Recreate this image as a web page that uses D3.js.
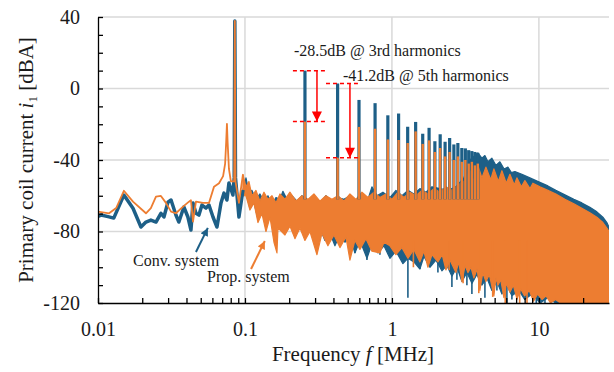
<!DOCTYPE html>
<html>
<head>
<meta charset="utf-8">
<script src="https://cdn.jsdelivr.net/npm/d3@7"></script>
<style>
  body { margin: 0; background: #fff; }
  text { font-family: "Liberation Serif", "Times New Roman", serif; fill: #1a1a1a; }
</style>
</head>
<body>
<div id="chart"></div>
<script>
// ---- data (frequency MHz, level dBA) ----
var convLow = [[0.01,-71.5],[0.0105,-70.8],[0.0117,-71.7],[0.0128,-72.5],[0.015,-59.6],[0.0173,-67],
  [0.0196,-77.5],[0.0212,-74.7],[0.0229,-73.6],[0.0248,-74.7],[0.0268,-69.8],[0.0281,-71.9],[0.0299,-63.6],
  [0.0314,-62.4],[0.0339,-70.8],[0.0355,-74.7],[0.0384,-66.3],[0.0409,-71.9],[0.0429,-79.2],[0.0443,-64],
  [0.0464,-69.8],[0.0486,-70.8],[0.051,-65.2],[0.0543,-66.9],[0.0569,-65.2],[0.0606,-71.9],[0.0645,-77.5],
  [0.0687,-64],[0.072,-58.5],[0.0754,-62.4],[0.0778,-52.9],[0.0828,-59.6],[0.0845,-50],[0.0853,37.8],
  [0.0862,-50],[0.091,-71.9],[0.0969,-56.8]];

var propLow = [[0.01,-68.9],[0.0119,-69.8],[0.0133,-66.9],[0.015,-57.2],[0.0173,-63.3],[0.0212,-69.8],
  [0.0229,-66.9],[0.0248,-60.5],[0.0268,-60.1],[0.029,-64],[0.0314,-68.9],[0.0339,-69.8],[0.0379,-66.1],
  [0.0416,-63.3],[0.0429,-62.5],[0.0443,-74.5],[0.0464,-63.3],[0.0518,-64],[0.0569,-64],[0.0616,-54.9],
  [0.0666,-53],[0.071,-49],[0.0733,-42],[0.0745,-30],[0.0754,-19.8],[0.0762,-30],[0.0778,-45],
  [0.0802,-52],[0.0845,-52],[0.0853,37.8],[0.0862,-52],[0.091,-64],[0.0969,-48]];

var convBandTop = [[0.0969,-56.8],[0.1016,-50],[0.1064,-58],[0.1116,-57],[0.1188,-62],[0.1265,-59],
  [0.1347,-63],[0.1434,-60],[0.1527,-65],[0.1625,-61],[0.173,-62],[0.1813,-57.5],[0.1931,-62],[0.2088,-60],
  [0.2258,-63],[0.2442,-60],[0.2683,-63],[0.2947,-61],[0.3237,-64],[0.3556,-60],[0.3907,-63],[0.4292,-61],
  [0.4716,-62],[0.5179,-60],[0.569,-63],[0.6251,-59],[0.6868,-62],[0.7311,-55],[0.7906,-60],[0.8687,-58],
  [0.9692,-61],[1.0646,-57],[1.1695,-60],[1.2846,-57],[1.4111,-59],[1.5504,-56],[1.7032,-58],[1.8714,-55],
  [2.1211,-56],[2.4044,-57],[2.7249,-55],[3.0888,-50],[3.3929,-40],[3.8459,-36],[4.0948,-39],[4.2934,-37.5],
  [4.5,-41],[4.7895,-39],[5.1,-43],[5.4303,-41],[5.8,-45],[6.1548,-44],[6.5,-47],[6.8668,-46.5],[7.6625,-48],
  [8.6858,-50],[10.158,-52.5],[11.514,-54.5],[13.05,-57],[15.03,-59.5],[17.3,-62],[19.61,-64],[22.23,-66.5],
  [24.81,-69],[27.26,-72],[29.02,-75],[30,-77.5]];

var convBandBottom = [[0.0969,-60],[0.1016,-58],[0.1081,-67],[0.1151,-64],[0.1226,-73],[0.1305,-69],
  [0.139,-76],[0.148,-71],[0.1575,-77],[0.1677,-73],[0.1785,-75],[0.1901,-79],[0.2023,-74],[0.2188,-80],
  [0.2366,-75],[0.2559,-81],[0.2768,-77],[0.2993,-83],[0.3237,-78],[0.35,-85],[0.3786,-81],[0.4095,-88],
  [0.4429,-82],[0.4789,-86],[0.5179,-83],[0.5601,-92],[0.6058,-85],[0.6761,-95],[0.7311,-87],[0.8031,-92],
  [0.8824,-88],[0.9692,-95],[1.0646,-91],[1.188,-98],[1.2846,-95],[1.4111,-97],[1.5504,-101],[1.6508,-94],
  [1.8137,-100],[1.9925,-96],[2.1886,-102],[2.3671,-99],[2.5595,-105],[2.768,-100],[2.9935,-108],
  [3.2373,-103],[3.5012,-109],[3.7866,-104],[4.0948,-110],[4.4302,-106],[4.7895,-113],[5.1809,-108],
  [5.6029,-115],[6.0591,-110],[6.5526,-116],[7.3,-113],[8.0,-118],[9.0,-115],[10.2,-120],[11.5,-117],
  [13,-120],[30,-120]];

var propBandTop = [[0.0969,-48],[0.1016,-55],[0.1064,-52],[0.1116,-60],[0.1188,-57],[0.1265,-63],
  [0.1347,-58],[0.1434,-62],[0.1527,-60],[0.1625,-64],[0.173,-59],[0.1871,-62],[0.2023,-58],[0.2223,-63],
  [0.2442,-60],[0.2683,-62],[0.2947,-59],[0.3237,-63],[0.3556,-60],[0.3907,-62],[0.4292,-60],[0.4716,-63],
  [0.5179,-59],[0.569,-62],[0.6251,-58],[0.6868,-61],[0.7544,-58],[0.8288,-61],[0.9103,-59],[1,-62],
  [1.0985,-58],[1.2066,-61],[1.3255,-58],[1.4563,-60],[1.5999,-57],[1.7576,-59],[1.931,-56],[2.1211,-58],
  [2.3302,-55],[2.5595,-57],[2.8119,-54],[3.0888,-52],[3.3929,-46],[3.6129,-52],[3.8459,-43],[4.0948,-50],
  [4.3613,-44],[4.7,-51],[4.9417,-45],[5.3,-52],[5.6029,-46],[6.0,-53],[6.3505,-48],[6.8,-54],[7.0852,-50],
  [7.6,-55],[8.0316,-51.5],[8.7,-56],[9.1038,-53],[10.158,-55],[11.514,-57],[13.05,-59],[15.03,-62],
  [17.3,-64.5],[19.61,-67],[22.23,-69.5],[24.81,-72],[27.26,-75],[29.48,-79],[30,-80]];

var propBandBottom = [[0.0969,-60],[0.1016,-60],[0.1081,-68],[0.1151,-64],[0.1226,-75],[0.1305,-70],
  [0.139,-80],[0.148,-72],[0.1575,-86],[0.1651,-92],[0.1677,-78],[0.1871,-82],[0.2023,-77],[0.2188,-84],
  [0.2366,-78],[0.2559,-85],[0.2768,-80],[0.309,-93],[0.3341,-81],[0.3669,-88],[0.4031,-82],[0.4429,-89],
  [0.4865,-83],[0.5179,-96],[0.5601,-85],[0.6058,-90],[0.6655,-84],[0.7311,-91],[0.8288,-92],[0.8824,-86],
  [0.9692,-88],[1.0646,-93],[1.1695,-89],[1.2846,-95],[1.4111,-90],[1.5504,-97],[1.6508,-91],[1.7576,-100],
  [1.8714,-93],[2.0558,-97],[2.2,-93],[2.3302,-101.5],[2.481,-96],[2.7249,-103],[2.85,-97],[2.9935,-108],
  [3.15,-99],[3.2885,-103],[3.45,-100],[3.6129,-106],[3.8,-101],[3.9685,-113],[4.15,-103],[4.3613,-108],
  [4.6,-104],[4.9417,-116],[5.1,-106],[5.2628,-110],[5.5,-107],[5.781,-117],[6.0,-109],[6.3505,-114],
  [6.7,-110],[7.1,-118],[7.5,-112],[8.0,-116],[8.6,-113],[9.2,-119],[9.8,-115],[10.5,-118],[11.2,-116],
  [12.0,-120],[13,-118],[14,-120],[30,-120]];

// downward spikes below the noise band
var convDips = [[0.5601,-92],[0.6761,-96],[0.8288,-93],[1.2846,-117],[1.5504,-101],[1.8137,-98],
  [2.0558,-103],[2.5595,-111],[2.768,-107],[3.2373,-110],[3.5012,-115],[4.0948,-107],[4.2934,-117],
  [5.1809,-113],[5.6029,-113],[6.0591,-120],[6.5526,-118],[8.0316,-118],[9.6,-120],[11.0,-120]];
var propDips = [[1.4,-100],[2.45,-101.5],[3.05,-109],[3.9,-114.5],[4.85,-116.6],[5.9,-120],[7.4,-120],
  [8.3,-120]];

// odd switching harmonics
var harmonicFreq = [0.256,0.427,0.597,0.768,0.938,1.11,1.28,1.45,1.62,1.79,1.96,2.13,2.30,2.47,2.64,2.81,
  2.99,3.16,3.33,3.50,3.67,3.84];
var convHarmonicPeak = [10,2.8,-6.4,-8.2,-15,-14,-21.4,-18.7,-25.3,-22,-29.5,-25.6,-29.8,-27.7,-31.3,-30.5,
  -33.3,-33.5,-34.5,-35,-35.5,-36];
var propHarmonicPeak = [-18.5,-38.7,-21.5,-22.5,-28.5,-28.8,-30.5,-24,-31,-29,-35.5,-33.3,-38,-35.5,-40,-38,
  -41,-40,-42,-41,-43,-42];

var yTicks = [-120,-110,-100,-90,-80,-70,-60,-50,-40,-30,-20,-10,0,10,20,30,40];
var yLabels = [-120,-80,-40,0,40];
var xMajor = [0.01,0.1,1,10];
var xMinor = [0.02,0.03,0.04,0.05,0.06,0.07,0.08,0.09,0.2,0.3,0.4,0.5,0.6,0.7,0.8,0.9,2,3,4,5,6,7,8,9,20];

// ---- chart ----
var svgWidth = 614;
var svgHeight = 372;
var margin = { top: 17, right: 5, bottom: 69, left: 98 };
var width = svgWidth - margin.left - margin.right;
var height = svgHeight - margin.top - margin.bottom;

var convColor = "#1d5f87";
var propColor = "#ed7d31";
var gridColor = "#d9d9d9";

var svg = d3.select("#chart").append("svg")
  .attr("width", svgWidth)
  .attr("height", svgHeight);

var defs = svg.append("defs");
defs.append("clipPath").attr("id", "plot").append("rect")
  .attr("width", width).attr("height", height);

function marker(id, color, w, h) {
  defs.append("marker")
    .attr("id", id)
    .attr("viewBox", "0 0 10 10")
    .attr("refX", 10).attr("refY", 5)
    .attr("markerUnits", "userSpaceOnUse")
    .attr("markerWidth", w).attr("markerHeight", h)
    .attr("orient", "auto")
    .append("path").attr("d", "M0,0L10,5L0,10Z").attr("fill", color);
}
marker("redHead", "#ff0000", 11, 10);
marker("convHead", convColor, 9, 8);
marker("propHead", propColor, 9, 8);

var chartGroup = svg.append("g")
  .attr("transform", `translate(${margin.left}, ${margin.top})`);

var x = d3.scaleLog().domain([0.01, 30]).range([0, width]);
var y = d3.scaleLinear().domain([-120, 40]).range([height, 0]);

// gridlines
chartGroup.append("g").selectAll("line").data([-80, -40, 0, 40]).enter().append("line")
  .attr("x1", 0).attr("x2", width)
  .attr("y1", (d) => y(d)).attr("y2", (d) => y(d))
  .attr("stroke", gridColor).attr("stroke-width", 1.5);
chartGroup.append("g").selectAll("line").data([0.1, 1, 10]).enter().append("line")
  .attr("x1", (d) => x(d)).attr("x2", (d) => x(d))
  .attr("y1", 0).attr("y2", height)
  .attr("stroke", gridColor).attr("stroke-width", 1.5);

var plot = chartGroup.append("g").attr("clip-path", "url(#plot)");

var line = d3.line().x((d) => x(d[0])).y((d) => y(d[1]));

function band(top, bottom) {
  return line(top.concat(bottom.slice().reverse())) + "Z";
}

function dips(data, color) {
  plot.append("g").selectAll("line").data(data).enter().append("line")
    .attr("x1", (d) => x(d[0])).attr("x2", (d) => x(d[0]))
    .attr("y1", y(-85)).attr("y2", (d) => y(d[1]))
    .attr("stroke", color).attr("stroke-width", 1.6);
}

// conventional noise band + dips
plot.append("path")
  .attr("d", band(convBandTop, convBandBottom))
  .attr("fill", convColor).attr("stroke", convColor)
  .attr("stroke-width", 1.2).attr("stroke-linejoin", "round");
dips(convDips, convColor);

// proposed noise band + dips
plot.append("path")
  .attr("d", band(propBandTop, propBandBottom))
  .attr("fill", propColor).attr("stroke", propColor)
  .attr("stroke-width", 1.2).attr("stroke-linejoin", "round");
dips(propDips, propColor);

// low-frequency traces
plot.append("path").datum(convLow)
  .attr("d", line).attr("fill", "none")
  .attr("stroke", convColor).attr("stroke-width", 3.5).attr("stroke-linejoin", "round");
plot.append("path").datum(propLow)
  .attr("d", line).attr("fill", "none")
  .attr("stroke", propColor).attr("stroke-width", 1.8).attr("stroke-linejoin", "round");

// harmonic spikes
plot.append("g").selectAll("line").data(harmonicFreq).enter().append("line")
  .attr("x1", (d) => x(d)).attr("x2", (d) => x(d))
  .attr("y1", y(-62)).attr("y2", (d, i) => y(convHarmonicPeak[i]))
  .attr("stroke", convColor).attr("stroke-width", 3.2);
plot.append("g").selectAll("line").data(harmonicFreq).enter().append("line")
  .attr("x1", (d) => x(d)).attr("x2", (d) => x(d))
  .attr("y1", y(-62)).attr("y2", (d, i) => y(propHarmonicPeak[i]))
  .attr("stroke", propColor).attr("stroke-width", 2.4);

// axes
var leftAxis = d3.axisLeft(y)
  .tickValues(yTicks).tickSize(-5).tickSizeOuter(0).tickPadding(18)
  .tickFormat((d) => (yLabels.indexOf(d) >= 0 ? String(d) : ""));
var bottomAxis = d3.axisBottom(x)
  .tickValues(xMajor.concat(xMinor)).tickSize(-5).tickSizeOuter(0).tickPadding(19)
  .tickFormat((d) => (xMajor.indexOf(d) >= 0 ? String(d) : ""));

var yAxisG = chartGroup.append("g").call(leftAxis);
var xAxisG = chartGroup.append("g")
  .attr("transform", `translate(0, ${height})`)
  .call(bottomAxis);

[yAxisG, xAxisG].forEach(function (g) {
  g.attr("font-family", null);
  g.selectAll("path, line").attr("stroke", "#000").attr("stroke-width", 1.3);
  g.selectAll("text").attr("font-size", 20).attr("fill", "#1a1a1a");
});

// axis titles
var yTitle = svg.append("text")
  .attr("transform", "translate(33, 160) rotate(-90)")
  .attr("text-anchor", "middle")
  .attr("font-size", 21);
yTitle.append("tspan").text("Primary coil current ");
yTitle.append("tspan").attr("font-style", "italic").text("i");
yTitle.append("tspan").attr("font-size", 13).attr("dy", 4).text("1");
yTitle.append("tspan").attr("dy", -4).text(" [dBA]");

var xTitle = svg.append("text")
  .attr("x", 353).attr("y", 361)
  .attr("text-anchor", "middle")
  .attr("font-size", 21);
xTitle.append("tspan").text("Frequency ");
xTitle.append("tspan").attr("font-style", "italic").text("f");
xTitle.append("tspan").text(" [MHz]");

// red harmonic reduction markers
var reductions = [
  { from: 0.212, to: 0.35, arrow: 0.309, hi: 10, lo: -18.5 },
  { from: 0.356, to: 0.587, arrow: 0.518, hi: 2.8, lo: -38.7 }
];
reductions.forEach(function (r) {
  [r.hi, r.lo].forEach(function (v) {
    chartGroup.append("line")
      .attr("x1", x(r.from)).attr("x2", x(r.to))
      .attr("y1", y(v)).attr("y2", y(v))
      .attr("stroke", "#ff0000").attr("stroke-width", 1.5)
      .attr("stroke-dasharray", "4,3");
  });
  chartGroup.append("line")
    .attr("x1", x(r.arrow)).attr("x2", x(r.arrow))
    .attr("y1", y(r.hi)).attr("y2", y(r.lo))
    .attr("stroke", "#ff0000").attr("stroke-width", 1.5)
    .attr("marker-end", "url(#redHead)");
});

svg.append("text").attr("x", 294).attr("y", 56).attr("font-size", 16)
  .text("-28.5dB @ 3rd harmonics");
svg.append("text").attr("x", 343).attr("y", 81).attr("font-size", 16)
  .text("-41.2dB @ 5th harmonics");

// series labels with arrows
chartGroup.append("line")
  .attr("x1", x(0.0464)).attr("y1", y(-91.5))
  .attr("x2", x(0.0559)).attr("y2", y(-78))
  .attr("stroke", convColor).attr("stroke-width", 2)
  .attr("marker-end", "url(#convHead)");
chartGroup.append("line")
  .attr("x1", x(0.11)).attr("y1", y(-101))
  .attr("x2", x(0.1365)).attr("y2", y(-85.3))
  .attr("stroke", propColor).attr("stroke-width", 2)
  .attr("marker-end", "url(#propHead)");

svg.append("text").attr("x", 133).attr("y", 266).attr("font-size", 16).text("Conv. system");
svg.append("text").attr("x", 207).attr("y", 282).attr("font-size", 16).text("Prop. system");
</script>
</body>
</html>
